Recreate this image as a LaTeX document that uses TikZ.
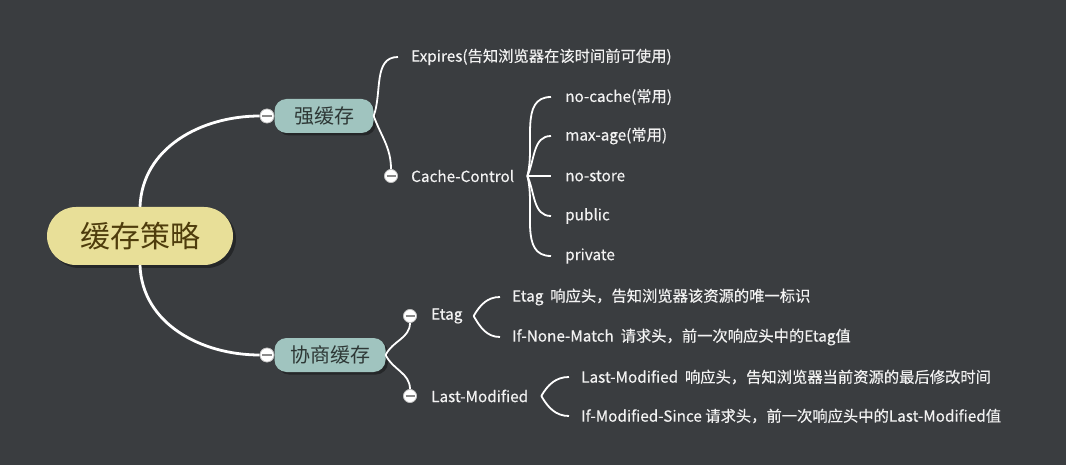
\documentclass[tikz,border=0pt]{standalone}
\usepackage{fontspec}
\setmainfont{Noto Sans CJK SC}
\newfontfamily\leaffont{Noto Sans CJK SC}[FakeBold=0.35]
\usetikzlibrary{shadows}
\definecolor{bg}{HTML}{3A3D40}
\definecolor{rootfill}{HTML}{E8DF98}
\definecolor{roottext}{HTML}{4E3C0C}
\definecolor{subfill}{HTML}{A0C4BF}
\definecolor{subtext}{HTML}{2E3836}
\definecolor{leaftext}{HTML}{F2F2F2}
\definecolor{minusc}{HTML}{8A8A8A}
\tikzset{
  rootbox/.style={rounded corners=29pt, minimum width=186pt, minimum height=58pt, inner sep=0pt,
    fill=rootfill, text=roottext, font=\fontsize{30}{32}\selectfont,
    drop shadow={shadow xshift=3pt, shadow yshift=-3pt, fill=black, opacity=0.35}},
  subbox/.style={rounded corners=12pt, minimum height=34pt, inner sep=0pt,
    fill=subfill, text=subtext, font=\fontsize{20}{22}\selectfont,
    drop shadow={shadow xshift=2.5pt, shadow yshift=-2.5pt, fill=black, opacity=0.35}},
  leaf/.style={anchor=west, inner sep=0pt, text=leaftext, font=\leaffont\fontsize{15.3}{17}\selectfont},
  collapse/.style={circle, fill=white, draw=minusc!60, line width=0.6pt, minimum size=14pt, inner sep=0pt},
  minusline/.style={draw=minusc, line width=2.6pt},
  mainline/.style={draw=white, line width=2.8pt},
  branch/.style={draw=white, line width=1.8pt},
}
\begin{document}
\begin{tikzpicture}[x=1pt,y=-1pt]
\fill[bg] (0,0) rectangle (1066,465);
\useasboundingbox (0,0) rectangle (1066,465);

% nodes
\node[rootbox] (root) at (140,236) {缓存策略};
\node[subbox, minimum width=99pt] (strong) at (324,116) {强缓存};
\node[subbox, minimum width=111pt] (neg) at (330,355) {协商缓存};

\node[leaf] (exp) at (411,57) {Expires(告知浏览器在该时间前可使用)};
\node[leaf] (cc) at (411,176) {Cache-Control};
\node[leaf] (nc) at (565,97) {no-cache(常用)};
\node[leaf] (ma) at (565,136) {max-age(常用)};
\node[leaf] (ns) at (565,176) {no-store};
\node[leaf] (pub) at (565,216) {public};
\node[leaf] (pri) at (565,256) {private};

\node[leaf] (etag) at (431,316) {Etag};
\node[leaf] (lm) at (431,396) {Last-Modified};
\node[leaf] (e1) at (512,297) {Etag\ \ 响应头，告知浏览器该资源的唯一标识};
\node[leaf] (e2) at (512,337) {If-None-Match\ \ 请求头，前一次响应头中的Etag值};
\node[leaf] (l1) at (581,377) {Last-Modified\ \ 响应头，告知浏览器当前资源的最后修改时间};
\node[leaf] (l2) at (581,416) {If-Modified-Since 请求头，前一次响应头中的Last-Modified值};

% collapse markers
\node[collapse] (c1) at (267,116) {};
\node[collapse] (c2) at (267,355) {};
\node[collapse, minimum size=13pt] (c3) at (391,176) {};
\node[collapse, minimum size=13pt] (c4) at (410,316) {};
\node[collapse, minimum size=13pt] (c5) at (410,396) {};

% hubs
\coordinate (cchub) at ([xshift=13pt]cc.east);
\coordinate (etaghub) at ([xshift=11pt]etag.east);
\coordinate (lmhub) at ([xshift=13pt]lm.east);

% main connectors
\draw[mainline] (root.north) to[out=88,in=180] (c1.west);
\draw[mainline] (root.south) to[out=-88,in=180] (c2.west);

% strong branches
\draw[branch] (strong.east) to[out=70,in=180] ([xshift=-13pt]exp.west);
\draw[branch] (strong.east) to[out=-70,in=90] (c3.north);

% cache-control children
\draw[branch] (cchub) to[out=75,in=180] ([xshift=-14pt]nc.west);
\draw[branch] (cchub) to[out=65,in=180] ([xshift=-14pt]ma.west);
\draw[branch] (cchub) -- ([xshift=-14pt]ns.west);
\draw[branch] (cchub) to[out=-65,in=180] ([xshift=-14pt]pub.west);
\draw[branch] (cchub) to[out=-75,in=180] ([xshift=-14pt]pri.west);

% negotiation branches
\draw[branch] (neg.east) to[out=65,in=-90] (c4.south);
\draw[branch] (neg.east) to[out=-65,in=90] (c5.north);

\draw[branch] (etaghub) to[out=60,in=180] ([xshift=-12pt]e1.west);
\draw[branch] (etaghub) to[out=-60,in=180] ([xshift=-12pt]e2.west);
\draw[branch] (lmhub) to[out=60,in=180] ([xshift=-12pt]l1.west);
\draw[branch] (lmhub) to[out=-60,in=180] ([xshift=-12pt]l2.west);

% redraw markers on top of lines
\foreach \c in {c1,c2}{
  \node[collapse] at (\c) {};
  \draw[minusline] ([xshift=-5pt]\c.center) -- ([xshift=5pt]\c.center);
}
\foreach \c in {c3,c4,c5}{
  \node[collapse, minimum size=13pt] at (\c) {};
  \draw[minusline] ([xshift=-4.5pt]\c.center) -- ([xshift=4.5pt]\c.center);
}
\end{tikzpicture}
\end{document}
